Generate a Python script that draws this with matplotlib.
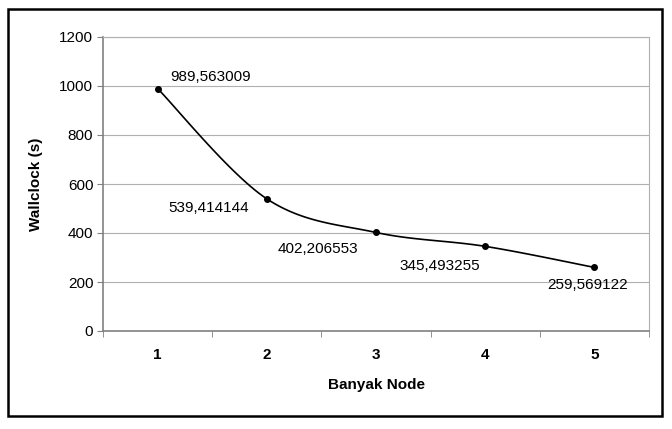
import matplotlib.pyplot as plt
import numpy as np
from matplotlib.patches import Rectangle

plt.rcParams['font.family'] = ['Liberation Sans', 'DejaVu Sans']

nodes = [1, 2, 3, 4, 5]
wallclock = [989.563009, 539.414144, 402.206553, 345.493255, 259.569122]
point_labels = ["989,563009", "539,414144", "402,206553", "345,493255", "259,569122"]
label_offsets = [(9, 8), (-71, -6.5), (-71, -12), (-62, -14), (-34, -12.5)]


def smooth(xs, ys, n=30):
    # Bezier smoothing through the points, ends use the point itself
    px = np.concatenate([[xs[0]], xs, [xs[-1]]])
    py = np.concatenate([[ys[0]], ys, [ys[-1]]])
    out_x, out_y = [], []
    t = np.linspace(0, 1, n)
    for i in range(1, len(px) - 2):
        for p, out in ((px, out_x), (py, out_y)):
            p0, p1, p2, p3 = p[i - 1], p[i], p[i + 1], p[i + 2]
            c1 = p1 + (p2 - p0) / 6
            c2 = p2 - (p3 - p1) / 6
            b = ((1 - t) ** 3 * p1 + 3 * (1 - t) ** 2 * t * c1
                 + 3 * (1 - t) * t ** 2 * c2 + t ** 3 * p2)
            out.extend(b)
    return np.array(out_x), np.array(out_y)


fig = plt.figure(figsize=(6.72, 4.29), dpi=100)
fig.patches.append(Rectangle((8 / 672, 1 - 416 / 429), 654 / 672, 407 / 429,
                             transform=fig.transFigure, fill=False,
                             edgecolor='black', linewidth=1.8))

ax = fig.add_axes([103 / 672, 1 - 331 / 429, 546 / 672, 294 / 429])

sx, sy = smooth(np.array(nodes, float), np.array(wallclock))
ax.plot(sx, sy, color='black', linewidth=1.2, zorder=3)
ax.plot(nodes, wallclock, 'o', color='black', markersize=4, zorder=4)

for x, y, lab, off in zip(nodes, wallclock, point_labels, label_offsets):
    ax.annotate(lab, (x, y), xytext=off, textcoords='offset points',
                fontsize=11, va='center', ha='left')

ax.set_xlim(0.5, 5.5)
ax.set_ylim(0, 1200)
ax.set_yticks(np.arange(0, 1201, 200))
ax.set_xticks(nodes)
ax.set_xticks(np.arange(0.5, 5.6, 1), minor=True)
ax.tick_params(axis='x', which='major', length=0, pad=12, labelsize=11)
ax.tick_params(axis='x', which='minor', length=4, color='#808080', direction='out')
ax.tick_params(axis='y', length=4, color='#808080', labelsize=11, pad=3)
for lab in ax.get_xticklabels():
    lab.set_fontweight('bold')

ax.grid(axis='y', color='#b0b0b0', linewidth=0.8)
ax.set_axisbelow(True)
for s in ['left', 'bottom']:
    ax.spines[s].set_color('#808080')
    ax.spines[s].set_linewidth(1.2)
for s in ['top', 'right']:
    ax.spines[s].set_color('#b0b0b0')
    ax.spines[s].set_linewidth(0.8)

ax.set_xlabel('Banyak Node', fontsize=11, fontweight='bold', labelpad=12)
ax.set_ylabel('Wallclock (s)', fontsize=11, fontweight='bold', labelpad=12)

fig.savefig('out.png', dpi=100)
